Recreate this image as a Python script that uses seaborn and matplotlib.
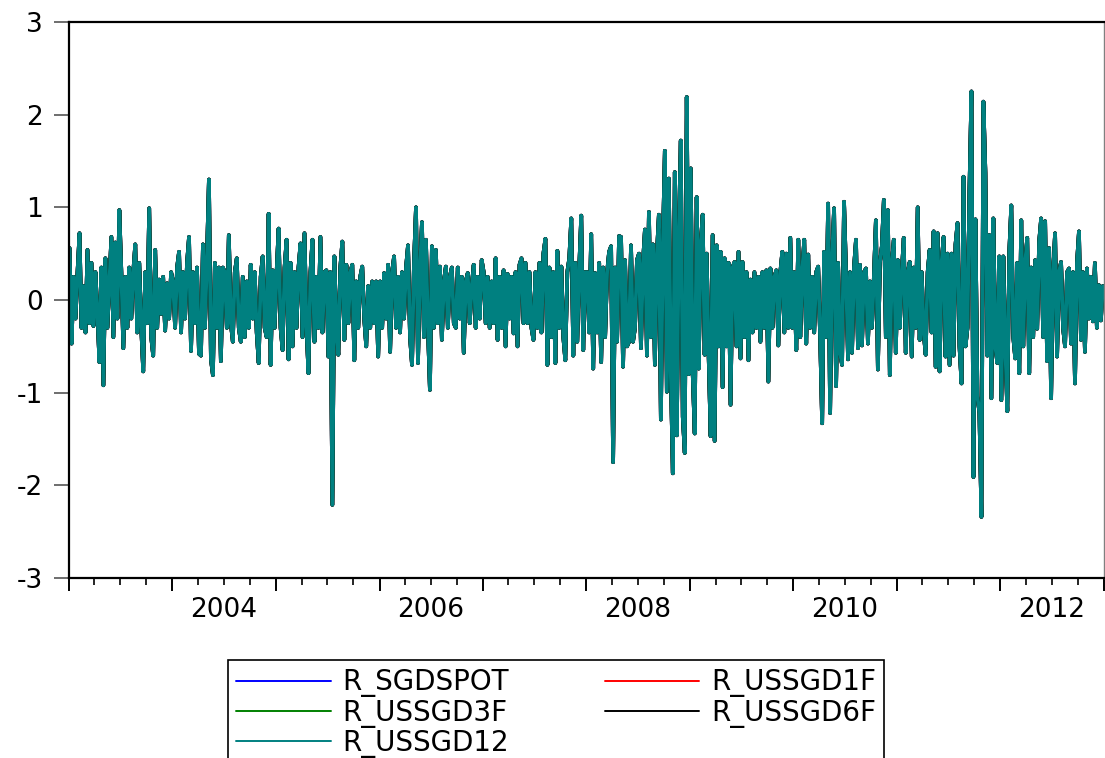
import numpy as np
import pandas as pd
import matplotlib
matplotlib.use("Agg")
import matplotlib.pyplot as plt
import matplotlib.dates as mdates
from matplotlib.ticker import NullFormatter
import seaborn as sns

# ---------------- data (weekly resolution) ----------------
series_names = ["R_SGDSPOT", "R_USSGD1F", "R_USSGD3F", "R_USSGD6F", "R_USSGD12"]
series_colors = ["#0000FF", "#FF0000", "#008000", "#000000", "#008080"]

r_2003 = [0.56, -0.47, 0.25, -0.2, 0.3, 0.72, -0.3, 0.15, -0.35, 0.54, -0.25, 0.4, -0.28,
          0.3, -0.15, -0.67, 0.35, -0.92, 0.45, -0.3, 0.2, 0.68, -0.4, 0.62, -0.2, 0.97,
          0.3, -0.52, 0.25, -0.3, 0.35, -0.2, 0.3, 0.6, -0.35, 0.4, -0.3, -0.77, 0.3,
          -0.25, 0.99, -0.4, -0.6, 0.54, -0.3, 0.22, -0.15, 0.25, -0.33, 0.18, -0.2, 0.3]
r_2004 = [0.2, -0.3, 0.35, 0.52, -0.35, 0.3, -0.2, 0.4, 0.68, -0.55, 0.3, -0.25, 0.35,
          -0.58, -0.6, 0.6, -0.3, 0.45, 1.3, -0.64, -0.81, 0.4, -0.3, 0.35, -0.66, 0.35,
          0.3, -0.3, 0.7, -0.25, -0.45, 0.3, 0.45, -0.3, -0.45, 0.25, -0.4, 0.2, -0.3,
          0.38, -0.2, 0.3, -0.35, -0.68, 0.25, 0.47, -0.3, -0.4, 0.93, -0.7, 0.32, -0.3]
r_2005 = [0.3, 0.77, -0.3, -0.54, 0.35, 0.65, -0.64, 0.4, -0.5, 0.3, -0.3, 0.35, 0.61,
          -0.4, 0.72, -0.3, -0.79, 0.3, 0.65, -0.45, 0.25, -0.3, 0.68, -0.35, 0.3, 0.32,
          -0.61, 0.3, -2.21, 0.47, -0.3, -0.59, 0.35, 0.63, -0.43, 0.38, -0.25, 0.3, 0.38,
          -0.65, 0.2, -0.3, 0.25, 0.36, -0.2, -0.5, 0.15, -0.3, 0.2, -0.25, 0.2, -0.61]
r_2006 = [0.2, -0.3, 0.29, -0.2, 0.38, -0.56, 0.3, 0.47, -0.3, 0.25, -0.35, 0.3, -0.2,
          0.35, 0.59, -0.4, -0.7, 0.4, 1.0, -0.68, 0.3, 0.84, -0.4, 0.65, -0.3, -0.97,
          0.58, -0.3, 0.54, -0.25, 0.36, -0.43, 0.2, 0.36, -0.3, 0.25, 0.35, -0.25, -0.3,
          0.35, -0.2, 0.25, -0.57, 0.2, 0.29, -0.25, 0.15, 0.38, -0.3, 0.25, -0.2, 0.43]
r_2007 = [0.3, -0.25, 0.25, -0.3, 0.2, -0.25, 0.45, -0.43, 0.25, -0.3, 0.32, -0.5, 0.28,
          -0.2, 0.25, -0.36, 0.3, -0.5, 0.38, 0.45, -0.25, 0.4, -0.25, 0.3, -0.3, -0.43,
          0.3, -0.3, 0.4, -0.35, 0.5, 0.66, -0.7, 0.35, -0.4, 0.3, -0.68, 0.53, -0.3,
          0.36, -0.4, -0.65, 0.3, 0.45, 0.88, -0.6, 0.4, -0.45, 0.35, 0.91, -0.54, 0.3]
r_2008 = [0.3, -0.35, 0.71, -0.74, 0.29, -0.35, 0.4, -0.67, 0.35, -0.4, 0.3, 0.52, 0.58,
          -1.75, 0.35, -0.45, 0.69, 0.68, -0.72, 0.43, -0.5, -0.45, 0.59, -0.45, -0.3, 0.43,
          0.5, -0.52, 0.4, 0.76, -0.6, 0.95, -0.4, 0.6, -0.7, 0.5, 0.92, -1.29, 0.6,
          1.61, -0.99, 1.31, -0.8, -1.87, 1.38, -1.46, 0.7, 1.72, -1.26, -1.65, 2.19, -0.8]
r_2009 = [1.42, -0.8, -1.44, 1.11, -0.74, 0.6, 0.92, -0.59, 0.5, -0.6, -1.47, 0.7, -1.52,
          0.59, -0.5, 0.52, -0.94, 0.45, -0.5, 0.4, -1.13, 0.35, 0.41, -0.5, 0.52, -0.63,
          0.41, -0.4, 0.3, -0.65, 0.22, -0.35, 0.3, -0.3, 0.25, -0.45, 0.3, -0.3, 0.32,
          -0.88, 0.34, -0.3, 0.25, 0.32, -0.49, 0.3, 0.52, -0.35, 0.5, -0.3, 0.67, -0.3]
r_2010 = [0.3, -0.54, 0.65, -0.4, 0.3, 0.65, -0.47, 0.49, -0.3, 0.25, -0.35, 0.3, 0.36,
          -0.4, -1.33, 0.52, -0.4, 1.04, -1.22, 0.45, 0.99, -0.93, 0.4, -0.57, -0.7, 1.06,
          0.3, -0.64, 0.3, -0.57, 0.35, 0.65, -0.52, 0.38, -0.49, 0.3, 0.34, -0.47, 0.2,
          -0.3, 0.25, 0.86, -0.75, 0.4, 0.58, 1.08, -0.4, 0.97, -0.81, 0.4, 0.65, -0.57]
r_2011 = [0.43, -0.3, 0.3, 0.67, -0.57, 0.3, 0.41, -0.61, 0.35, -0.3, 1.0, -0.43, 0.3,
          -0.35, -0.59, 0.3, 0.54, -0.35, 0.74, -0.72, 0.72, -0.77, 0.4, 0.68, -0.61, 0.5,
          -0.7, 0.5, -0.6, 0.6, 0.83, -0.5, -0.9, 1.33, -0.5, -0.3, 1.19, 2.25, -1.91,
          0.87, -1.04, -1.22, -2.34, 2.14, 1.37, -0.6, 0.7, -1.06, 0.88, -0.5, -0.68, 0.47]
r_2012 = [-1.08, 0.47, -0.5, -1.2, 0.52, 1.02, -0.4, -0.63, 0.4, -0.79, 0.86, -0.5, 0.4,
          0.67, -0.79, 0.35, -0.4, 0.43, -0.31, 0.63, 0.88, -0.4, 0.85, -0.66, 0.56, -1.06,
          0.3, 0.72, -0.61, 0.3, 0.41, -0.3, -0.5, 0.3, 0.34, -0.47, 0.3, -0.9, 0.4,
          0.74, -0.43, 0.3, -0.56, 0.34, -0.2, 0.25, -0.23, 0.4, -0.3, 0.16, -0.22, 0.15]

returns = r_2003 + r_2004 + r_2005 + r_2006 + r_2007 + r_2008 + r_2009 + r_2010 + r_2011 + r_2012
# the five series are visually indistinguishable in the picture -> same readings
series_values = {name: returns for name in series_names}

y_ticks = [-3, -2, -1, 0, 1, 2, 3]
label_years = [2004, 2006, 2008, 2010, 2012]

dates = pd.date_range("2003-01-03", "2012-12-28", periods=len(returns))
df = pd.concat(
    [pd.DataFrame({"date": dates, "value": series_values[n], "series": n}) for n in series_names],
    ignore_index=True,
)

# ---------------- style ----------------
sns.set_theme(style="white")
plt.rcParams["font.family"] = ["DejaVu Sans"]
plt.rcParams["axes.unicode_minus"] = False
plt.rcParams["text.color"] = "black"
plt.rcParams["xtick.color"] = "black"
plt.rcParams["ytick.color"] = "black"
plt.rcParams["xtick.labelcolor"] = "black"
plt.rcParams["ytick.labelcolor"] = "black"

W, H = 1105, 758
fig = plt.figure(figsize=(W / 100, H / 100), dpi=100)
ax = fig.add_axes([69 / W, 1 - 578 / H, (1104 - 69) / W, (578 - 22) / H])

sns.lineplot(
    data=df, x="date", y="value", hue="series", hue_order=series_names,
    palette=series_colors, linewidth=2.7, estimator=None, errorbar=None,
    sort=False, ax=ax,
)

ax.set_xlim(pd.Timestamp("2003-01-01"), pd.Timestamp("2013-01-01"))
ax.set_ylim(-3, 3)
ax.set_xlabel("")
ax.set_ylabel("")

# y axis
ax.set_yticks(y_ticks)
ax.set_yticklabels([str(v) for v in y_ticks])
ax.tick_params(axis="y", which="major", direction="out", length=11, width=1.2,
               color="#555555", labelcolor="black", pad=8, labelsize=19, left=True)

# x axis: long ticks at year boundaries, short at quarters, labels mid-year
ax.xaxis.set_major_locator(mdates.YearLocator())
ax.xaxis.set_minor_locator(mdates.MonthLocator(bymonth=[4, 7, 10]))
ax.xaxis.set_major_formatter(NullFormatter())
ax.xaxis.set_minor_formatter(NullFormatter())
ax.tick_params(axis="x", which="major", direction="out", length=9, width=1.4,
               color="black", bottom=True)
ax.tick_params(axis="x", which="minor", direction="out", length=5, width=1.2,
               color="black", bottom=True)

sec = ax.secondary_xaxis("bottom")
sec.set_xticks([mdates.date2num(pd.Timestamp(f"{y}-07-01")) for y in label_years],
               [str(y) for y in label_years])
sec.tick_params(axis="x", length=0, pad=14, labelsize=19, labelcolor="black")
sec.spines["bottom"].set_visible(False)

for side in ["left", "bottom", "top"]:
    ax.spines[side].set_color("black")
    ax.spines[side].set_linewidth(1.6)
ax.spines["right"].set_color("#808080")
ax.spines["right"].set_linewidth(1.0)

# legend below the plot, boxed, two columns filled row by row
handles, labels = ax.get_legend_handles_labels()
hmap = dict(zip(labels, handles))
order = ["R_SGDSPOT", "R_USSGD3F", "R_USSGD12", "R_USSGD1F", "R_USSGD6F"]
ax.get_legend().remove()
leg = ax.legend(
    [hmap[n] for n in order], order,
    loc="upper left", bbox_to_anchor=(228 / W, 1 - 660 / H), bbox_transform=fig.transFigure,
    ncol=2, frameon=True, fancybox=False, edgecolor="black", framealpha=1,
    fontsize=20, handlelength=3.4, handletextpad=0.42, columnspacing=3.45,
    labelspacing=0.05, borderpad=0.3, borderaxespad=0,
)
leg.get_frame().set_linewidth(1.2)
for line in leg.get_lines():
    line.set_linewidth(1.4)
for t in leg.get_texts():
    t.set_color("black")

fig.savefig("out.png", dpi=100)
